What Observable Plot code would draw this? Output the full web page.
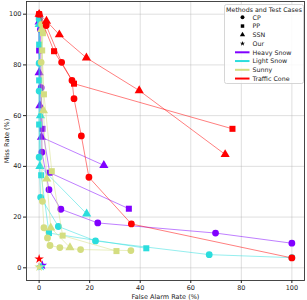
<!DOCTYPE html>
<html>
<head>
<meta charset="utf-8">
<script src="https://cdn.jsdelivr.net/npm/d3@7"></script>
<script src="https://cdn.jsdelivr.net/npm/@observablehq/plot@0.6"></script>
<style>
  html, body { margin: 0; padding: 0; background: white; }
  #wrap { position: relative; width: 307px; height: 300px; }
  #legend { position: absolute; left: 0; top: 0; }
</style>
</head>
<body>
<div id="wrap"></div>
<script>
// ---- data: [false alarm rate %, miss rate %] ----
const cases = ["Heavy Snow", "Light Snow", "Sunny", "Traffic Cone"];
const caseColors = ["#8000ff", "#2bdddd", "#d4dd80", "#ff0000"];
const methods = ["CP", "PP", "SSN", "Our"];
const methodSymbols = ["circle", "square", "triangle", "star"];
const xTicks = [0, 20, 40, 60, 80, 100];
const yTicks = [0, 20, 40, 60, 80, 100];

const heavyCP  = [[0,99],[0.5,94],[0.8,71],[1.1,45.6],[3.9,30.8],[8.6,23.1],[23.2,17.7],[69.8,13.7],[100,9.7]];
const heavyPP  = [[0,98],[0,85.7],[1.3,54.8],[4.2,37.5],[35.5,23.3]];
const heavySSN = [[0,97],[0,77],[0.3,64],[0.9,51.5],[25.6,40.4]];
const heavyOur = [[1.3,1]];

const lightCP  = [[0,98],[0,80.7],[0,69.7],[0,43.6],[0.6,27.8],[7.6,16.3],[22.3,10.6],[67.3,5.2],[100,4]];
const lightPP  = [[0,99],[0,88],[0,73.9],[0,56.5],[0.8,36.5],[3.9,13.7],[42.4,7.7]];
const lightSSN = [[0,96],[0.5,60],[0.3,40],[18.8,21.3]];
const lightOur = [[0.8,0.5]];

const sunnyCP  = [[1,96],[0.8,81],[1.3,26.2],[1.9,15.8],[3.3,11.8],[4.3,8.8],[8.2,8],[16.4,7.2],[36.3,6.8]];
const sunnyPP  = [[1.5,92.5],[1.2,85.7],[1.9,68.4],[5,38.1],[9.3,12.7],[30.6,6.6]];
const sunnySSN = [[1,94],[1.7,62],[3,35.1],[4.6,15.8],[12.2,8]];
const sunnyOur = [[0,0.3]];

const coneCP  = [[0,100],[2.8,95.5],[8.9,81],[13,73.9],[13.8,66.7],[16.7,52],[19.7,35.7],[36.5,17.3],[100,3.9]];
const conePP  = [[0,100],[5.9,85.4],[13.8,72.6],[76.5,54.8]];
const coneSSN = [[0,100],[2.9,97.3],[8,91.9],[18.7,82.8],[39.6,69.9],[73.6,44.7]];
const coneOur = [[0,3.5]];

const seriesTable = [
  [heavyCP, heavyPP, heavySSN, heavyOur],
  [lightCP, lightPP, lightSSN, lightOur],
  [sunnyCP, sunnyPP, sunnySSN, sunnyOur],
  [coneCP, conePP, coneSSN, coneOur]
];

// build flat table
const rows = [];
seriesTable.forEach((list, ci) => {
  list.forEach((pts, mi) => {
    pts.forEach(([fa, miss]) => rows.push({
      fa, miss, tcase: cases[ci], method: methods[mi], key: cases[ci] + "|" + methods[mi]
    }));
  });
});

const colorOf = Object.fromEntries(cases.map((c, i) => [c, caseColors[i]]));
const symOf = Object.fromEntries(methods.map((m, i) => [m, methodSymbols[i]]));

const marks = [
  Plot.gridX(xTicks, {stroke: "#b0b0b0", strokeOpacity: 0.45, strokeWidth: 0.9}),
  Plot.gridY(yTicks, {stroke: "#b0b0b0", strokeOpacity: 0.45, strokeWidth: 0.9})
];
cases.forEach((c) => {
  const sub = rows.filter(d => d.tcase === c);
  marks.push(Plot.line(sub.filter(d => d.method !== "Our"), {
    x: "fa", y: "miss", z: "key", stroke: colorOf[c], strokeOpacity: 0.5, strokeWidth: 1
  }));
  methods.forEach((m) => {
    marks.push(Plot.dot(sub.filter(d => d.method === m), {
      x: "fa", y: "miss", fill: colorOf[c], stroke: "none",
      symbol: () => symOf[m], r: m === "Our" ? 3 : 3.4
    }));
  });
});
marks.push(
  Plot.frame({stroke: "#333", strokeWidth: 0.9}),
  Plot.axisX(xTicks, {tickSize: 3, tickPadding: 2, fontSize: 6.5, label: "False Alarm Rate (%)", labelAnchor: "center", labelArrow: "none", labelOffset: 18}),
  Plot.axisY(yTicks, {tickSize: 3, tickPadding: 2, fontSize: 6.5, label: "Miss Rate (%)", labelAnchor: "center", labelArrow: "none", labelOffset: 22})
);

const chart = Plot.plot({
  width: 307, height: 300,
  marginLeft: 26, marginRight: 3, marginTop: 1, marginBottom: 20,
  style: {fontFamily: "DejaVu Sans", fontSize: "6.5px", background: "white", color: "#222"},
  x: {domain: [-5, 105]},
  y: {domain: [-5, 105]},
  symbol: {type: "identity"},
  marks
});
document.getElementById("wrap").appendChild(chart);

// legend overlay
const leg = d3.select("#wrap").append("svg").attr("id", "legend")
  .attr("width", 307).attr("height", 300)
  .style("font-family", "DejaVu Sans").style("font-size", "6.3px");
leg.append("rect").attr("x", 224.5).attr("y", 4.5).attr("width", 79).attr("height", 79)
  .attr("rx", 2).attr("fill", "white").attr("fill-opacity", 0.85).attr("stroke", "#ccc").attr("stroke-width", 0.8);
leg.append("text").attr("x", 264).attr("y", 9.5).attr("text-anchor", "middle").attr("dy", "0.35em")
  .attr("fill", "#222").text("Methods and Test Cases");
const rowY0 = 17.3, rowDy = 8.75;
methods.forEach((m, i) => {
  const y = rowY0 + i * rowDy;
  leg.append("path").attr("transform", `translate(242.5,${y})`)
    .attr("d", d3.symbol(Plot.symbol ? d3.symbolCircle : d3.symbolCircle, 10)())
    .attr("d", d3.symbol({circle: d3.symbolCircle, square: d3.symbolSquare, triangle: d3.symbolTriangle, star: d3.symbolStar}[methodSymbols[i]], m === "Our" ? 8 : 12)())
    .attr("fill", "black");
  leg.append("text").attr("x", 252.5).attr("y", y).attr("dy", "0.35em").attr("fill", "#222").text(m);
});
cases.forEach((c, i) => {
  const y = rowY0 + (i + 4) * rowDy;
  leg.append("line").attr("x1", 235).attr("x2", 249.5).attr("y1", y).attr("y2", y)
    .attr("stroke", caseColors[i]).attr("stroke-width", 2);
  leg.append("text").attr("x", 252.5).attr("y", y).attr("dy", "0.35em").attr("fill", "#222").text(c);
});
</script>
</body>
</html>
